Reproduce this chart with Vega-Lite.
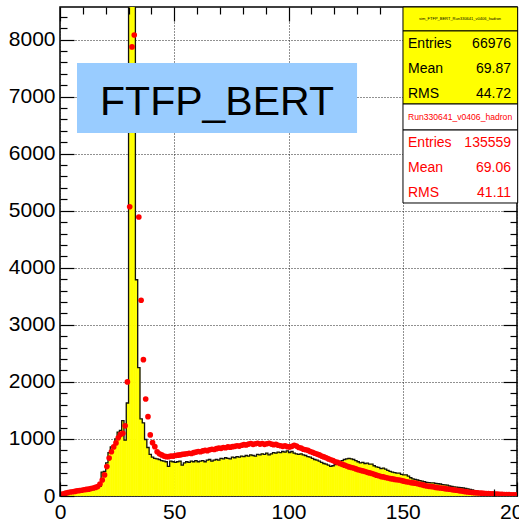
{
"$schema": "https://vega.github.io/schema/vega-lite/v6.json",
"width": 457, "height": 489,
"autosize": {"type": "none"},
"padding": {"left": 60, "top": 7, "right": 2, "bottom": 26},
"background": "white",
"data": {"values": [{}]},
"config": {"view": {"stroke": "black", "strokeWidth": 1.5}, "font": "Liberation Sans",
 "axis": {"domain": false, "labelFont": "Liberation Sans", "labelFontSize": 21, "labelColor": "black", "tickColor": "black", "tickWidth": 1.2, "labelBound": false, "labelOverlap": false, "labelFlush": false, "gridColor": "#222", "gridDash": [1, 2], "gridWidth": 1, "format": "d"}},
"datasets": {
"hist": [
{"lo":0,"hi":1,"n":20},{"lo":1,"hi":2,"n":40},{"lo":2,"hi":3,"n":50},{"lo":3,"hi":4,"n":55},{"lo":4,"hi":5,"n":60},{"lo":5,"hi":6,"n":70},{"lo":6,"hi":7,"n":75},{"lo":7,"hi":8,"n":80},{"lo":8,"hi":9,"n":90},{"lo":9,"hi":10,"n":95},
{"lo":10,"hi":11,"n":100},{"lo":11,"hi":12,"n":110},{"lo":12,"hi":13,"n":120},{"lo":13,"hi":14,"n":130},{"lo":14,"hi":15,"n":110},{"lo":15,"hi":16,"n":130},{"lo":16,"hi":17,"n":150},{"lo":17,"hi":18,"n":170},{"lo":18,"hi":19,"n":420},{"lo":19,"hi":20,"n":430},
{"lo":20,"hi":21,"n":580},{"lo":21,"hi":22,"n":760},{"lo":22,"hi":23,"n":860},{"lo":23,"hi":24,"n":880},{"lo":24,"hi":25,"n":1000},{"lo":25,"hi":26,"n":1120},{"lo":26,"hi":27,"n":1150},{"lo":27,"hi":28,"n":1320},{"lo":28,"hi":29,"n":980},{"lo":29,"hi":30,"n":1630},
{"lo":30,"hi":31,"n":14000},{"lo":31,"hi":32,"n":16000},{"lo":32,"hi":33,"n":12000},{"lo":33,"hi":34,"n":3790},{"lo":34,"hi":35,"n":2250},{"lo":35,"hi":36,"n":1350},{"lo":36,"hi":37,"n":1280},{"lo":37,"hi":38,"n":990},{"lo":38,"hi":39,"n":850},{"lo":39,"hi":40,"n":730},
{"lo":40,"hi":41,"n":680},{"lo":41,"hi":42,"n":660},{"lo":42,"hi":43,"n":650},{"lo":43,"hi":44,"n":640},{"lo":44,"hi":45,"n":620},{"lo":45,"hi":46,"n":610},{"lo":46,"hi":47,"n":600},{"lo":47,"hi":48,"n":520},{"lo":48,"hi":49,"n":610},{"lo":49,"hi":50,"n":600},
{"lo":50,"hi":51,"n":590},{"lo":51,"hi":52,"n":600},{"lo":52,"hi":53,"n":610},{"lo":53,"hi":54,"n":540},{"lo":54,"hi":55,"n":580},{"lo":55,"hi":56,"n":600},{"lo":56,"hi":57,"n":590},{"lo":57,"hi":58,"n":610},{"lo":58,"hi":59,"n":600},{"lo":59,"hi":60,"n":620},
{"lo":60,"hi":61,"n":600},{"lo":61,"hi":62,"n":610},{"lo":62,"hi":63,"n":620},{"lo":63,"hi":64,"n":600},{"lo":64,"hi":65,"n":630},{"lo":65,"hi":66,"n":640},{"lo":66,"hi":67,"n":610},{"lo":67,"hi":68,"n":630},{"lo":68,"hi":69,"n":640},{"lo":69,"hi":70,"n":630},
{"lo":70,"hi":71,"n":660},{"lo":71,"hi":72,"n":650},{"lo":72,"hi":73,"n":670},{"lo":73,"hi":74,"n":660},{"lo":74,"hi":75,"n":650},{"lo":75,"hi":76,"n":680},{"lo":76,"hi":77,"n":670},{"lo":77,"hi":78,"n":690},{"lo":78,"hi":79,"n":680},{"lo":79,"hi":80,"n":700},
{"lo":80,"hi":81,"n":690},{"lo":81,"hi":82,"n":710},{"lo":82,"hi":83,"n":700},{"lo":83,"hi":84,"n":720},{"lo":84,"hi":85,"n":710},{"lo":85,"hi":86,"n":700},{"lo":86,"hi":87,"n":730},{"lo":87,"hi":88,"n":720},{"lo":88,"hi":89,"n":740},{"lo":89,"hi":90,"n":730},
{"lo":90,"hi":91,"n":750},{"lo":91,"hi":92,"n":720},{"lo":92,"hi":93,"n":740},{"lo":93,"hi":94,"n":760},{"lo":94,"hi":95,"n":750},{"lo":95,"hi":96,"n":770},{"lo":96,"hi":97,"n":760},{"lo":97,"hi":98,"n":780},{"lo":98,"hi":99,"n":770},{"lo":99,"hi":100,"n":790},
{"lo":100,"hi":101,"n":760},{"lo":101,"hi":102,"n":780},{"lo":102,"hi":103,"n":750},{"lo":103,"hi":104,"n":740},{"lo":104,"hi":105,"n":730},{"lo":105,"hi":106,"n":740},{"lo":106,"hi":107,"n":720},{"lo":107,"hi":108,"n":710},{"lo":108,"hi":109,"n":690},{"lo":109,"hi":110,"n":680},
{"lo":110,"hi":111,"n":660},{"lo":111,"hi":112,"n":640},{"lo":112,"hi":113,"n":630},{"lo":113,"hi":114,"n":610},{"lo":114,"hi":115,"n":590},{"lo":115,"hi":116,"n":570},{"lo":116,"hi":117,"n":560},{"lo":117,"hi":118,"n":540},{"lo":118,"hi":119,"n":520},{"lo":119,"hi":120,"n":530},
{"lo":120,"hi":121,"n":550},{"lo":121,"hi":122,"n":570},{"lo":122,"hi":123,"n":600},{"lo":123,"hi":124,"n":620},{"lo":124,"hi":125,"n":640},{"lo":125,"hi":126,"n":650},{"lo":126,"hi":127,"n":660},{"lo":127,"hi":128,"n":650},{"lo":128,"hi":129,"n":640},{"lo":129,"hi":130,"n":620},
{"lo":130,"hi":131,"n":600},{"lo":131,"hi":132,"n":580},{"lo":132,"hi":133,"n":590},{"lo":133,"hi":134,"n":570},{"lo":134,"hi":135,"n":575},{"lo":135,"hi":136,"n":560},{"lo":136,"hi":137,"n":560},{"lo":137,"hi":138,"n":530},{"lo":138,"hi":139,"n":510},{"lo":139,"hi":140,"n":500},
{"lo":140,"hi":141,"n":480},{"lo":141,"hi":142,"n":490},{"lo":142,"hi":143,"n":470},{"lo":143,"hi":144,"n":450},{"lo":144,"hi":145,"n":430},{"lo":145,"hi":146,"n":420},{"lo":146,"hi":147,"n":410},{"lo":147,"hi":148,"n":400},{"lo":148,"hi":149,"n":400},{"lo":149,"hi":150,"n":380},
{"lo":150,"hi":151,"n":370},{"lo":151,"hi":152,"n":370},{"lo":152,"hi":153,"n":350},{"lo":153,"hi":154,"n":320},{"lo":154,"hi":155,"n":300},{"lo":155,"hi":156,"n":290},{"lo":156,"hi":157,"n":280},{"lo":157,"hi":158,"n":270},{"lo":158,"hi":159,"n":260},{"lo":159,"hi":160,"n":250},
{"lo":160,"hi":161,"n":240},{"lo":161,"hi":162,"n":235},{"lo":162,"hi":163,"n":230},{"lo":163,"hi":164,"n":230},{"lo":164,"hi":165,"n":220},{"lo":165,"hi":166,"n":215},{"lo":166,"hi":167,"n":210},{"lo":167,"hi":168,"n":200},{"lo":168,"hi":169,"n":195},{"lo":169,"hi":170,"n":190},
{"lo":170,"hi":171,"n":175},{"lo":171,"hi":172,"n":170},{"lo":172,"hi":173,"n":160},{"lo":173,"hi":174,"n":155},{"lo":174,"hi":175,"n":150},{"lo":175,"hi":176,"n":145},{"lo":176,"hi":177,"n":140},{"lo":177,"hi":178,"n":135},{"lo":178,"hi":179,"n":125},{"lo":179,"hi":180,"n":115},
{"lo":180,"hi":181,"n":105},{"lo":181,"hi":182,"n":95},{"lo":182,"hi":183,"n":85},{"lo":183,"hi":184,"n":75},{"lo":184,"hi":185,"n":70},{"lo":185,"hi":186,"n":65},{"lo":186,"hi":187,"n":60},{"lo":187,"hi":188,"n":58},{"lo":188,"hi":189,"n":55},{"lo":189,"hi":190,"n":52},
{"lo":190,"hi":191,"n":50},{"lo":191,"hi":192,"n":48},{"lo":192,"hi":193,"n":45},{"lo":193,"hi":194,"n":43},{"lo":194,"hi":195,"n":40},{"lo":195,"hi":196,"n":38},{"lo":196,"hi":197,"n":36},{"lo":197,"hi":198,"n":35},{"lo":198,"hi":199,"n":33},{"lo":199,"hi":200,"n":30}
],
"pts": [
{"x":0.5,"n":30},{"x":1.5,"n":40},{"x":2.5,"n":50},{"x":3.5,"n":60},{"x":4.5,"n":70},{"x":5.5,"n":75},{"x":6.5,"n":80},{"x":7.5,"n":90},{"x":8.5,"n":95},{"x":9.5,"n":100},
{"x":10.5,"n":110},{"x":11.5,"n":115},{"x":12.5,"n":120},{"x":13.5,"n":130},{"x":14.5,"n":140},{"x":15.5,"n":150},{"x":16.5,"n":165},{"x":17.5,"n":210},{"x":18.5,"n":280},{"x":19.5,"n":370},
{"x":20.5,"n":515},{"x":21.5,"n":665},{"x":22.5,"n":775},{"x":23.5,"n":860},{"x":24.5,"n":930},{"x":25.5,"n":1020},{"x":26.5,"n":1080},{"x":27.5,"n":1100},{"x":28.5,"n":1230},{"x":29.5,"n":2000},
{"x":30.5,"n":5070},{"x":31.5,"n":7870},{"x":32.5,"n":8080},{"x":33.5,"n":9500},{"x":34.5,"n":4890},{"x":35.5,"n":3430},{"x":36.5,"n":2390},{"x":37.5,"n":1700},{"x":38.5,"n":1390},{"x":39.5,"n":1070},
{"x":40.5,"n":935},{"x":41.5,"n":865},{"x":42.5,"n":775},{"x":43.5,"n":740},{"x":44.5,"n":720},{"x":45.5,"n":700},{"x":46.5,"n":690},{"x":47.5,"n":690},{"x":48.5,"n":700},{"x":49.5,"n":700},
{"x":50.5,"n":710},{"x":51.5,"n":715},{"x":52.5,"n":720},{"x":53.5,"n":730},{"x":54.5,"n":735},{"x":55.5,"n":740},{"x":56.5,"n":750},{"x":57.5,"n":745},{"x":58.5,"n":760},{"x":59.5,"n":770},
{"x":60.5,"n":780},{"x":61.5,"n":775},{"x":62.5,"n":790},{"x":63.5,"n":800},{"x":64.5,"n":795},{"x":65.5,"n":810},{"x":66.5,"n":820},{"x":67.5,"n":815},{"x":68.5,"n":830},{"x":69.5,"n":840},
{"x":70.5,"n":835},{"x":71.5,"n":850},{"x":72.5,"n":845},{"x":73.5,"n":860},{"x":74.5,"n":855},{"x":75.5,"n":865},{"x":76.5,"n":870},{"x":77.5,"n":880},{"x":78.5,"n":875},{"x":79.5,"n":890},
{"x":80.5,"n":900},{"x":81.5,"n":895},{"x":82.5,"n":910},{"x":83.5,"n":920},{"x":84.5,"n":905},{"x":85.5,"n":915},{"x":86.5,"n":925},{"x":87.5,"n":910},{"x":88.5,"n":920},{"x":89.5,"n":905},
{"x":90.5,"n":915},{"x":91.5,"n":925},{"x":92.5,"n":910},{"x":93.5,"n":900},{"x":94.5,"n":905},{"x":95.5,"n":890},{"x":96.5,"n":880},{"x":97.5,"n":870},{"x":98.5,"n":880},{"x":99.5,"n":865},
{"x":100.5,"n":860},{"x":101.5,"n":870},{"x":102.5,"n":890},{"x":103.5,"n":875},{"x":104.5,"n":850},{"x":105.5,"n":840},{"x":106.5,"n":820},{"x":107.5,"n":810},{"x":108.5,"n":800},{"x":109.5,"n":780},
{"x":110.5,"n":765},{"x":111.5,"n":750},{"x":112.5,"n":735},{"x":113.5,"n":720},{"x":114.5,"n":700},{"x":115.5,"n":685},{"x":116.5,"n":670},{"x":117.5,"n":650},{"x":118.5,"n":635},{"x":119.5,"n":620},
{"x":120.5,"n":600},{"x":121.5,"n":590},{"x":122.5,"n":570},{"x":123.5,"n":555},{"x":124.5,"n":540},{"x":125.5,"n":525},{"x":126.5,"n":510},{"x":127.5,"n":500},{"x":128.5,"n":490},{"x":129.5,"n":475},
{"x":130.5,"n":460},{"x":131.5,"n":450},{"x":132.5,"n":440},{"x":133.5,"n":430},{"x":134.5,"n":415},{"x":135.5,"n":405},{"x":136.5,"n":395},{"x":137.5,"n":380},{"x":138.5,"n":365},{"x":139.5,"n":355},
{"x":140.5,"n":340},{"x":141.5,"n":335},{"x":142.5,"n":325},{"x":143.5,"n":315},{"x":144.5,"n":305},{"x":145.5,"n":300},{"x":146.5,"n":290},{"x":147.5,"n":285},{"x":148.5,"n":280},{"x":149.5,"n":270},
{"x":150.5,"n":260},{"x":151.5,"n":250},{"x":152.5,"n":245},{"x":153.5,"n":235},{"x":154.5,"n":230},{"x":155.5,"n":225},{"x":156.5,"n":215},{"x":157.5,"n":205},{"x":158.5,"n":195},{"x":159.5,"n":185},
{"x":160.5,"n":175},{"x":161.5,"n":170},{"x":162.5,"n":165},{"x":163.5,"n":160},{"x":164.5,"n":150},{"x":165.5,"n":145},{"x":166.5,"n":140},{"x":167.5,"n":135},{"x":168.5,"n":128},{"x":169.5,"n":122},
{"x":170.5,"n":118},{"x":171.5,"n":112},{"x":172.5,"n":105},{"x":173.5,"n":100},{"x":174.5,"n":95},{"x":175.5,"n":88},{"x":176.5,"n":82},{"x":177.5,"n":76},{"x":178.5,"n":70},{"x":179.5,"n":65},
{"x":180.5,"n":62},{"x":181.5,"n":58},{"x":182.5,"n":55},{"x":183.5,"n":52},{"x":184.5,"n":50},{"x":185.5,"n":47},{"x":186.5,"n":44},{"x":187.5,"n":41},{"x":188.5,"n":38},{"x":189.5,"n":36},
{"x":190.5,"n":34},{"x":191.5,"n":32},{"x":192.5,"n":30},{"x":193.5,"n":28},{"x":194.5,"n":26},{"x":195.5,"n":25},{"x":196.5,"n":24},{"x":197.5,"n":22},{"x":198.5,"n":21},{"x":199.5,"n":20}
]
},
"layer": [
{"data": {"name": "hist"},
 "mark": {"type": "rect", "color": "#ffff00", "stroke": "#ffff00", "strokeWidth": 0.6, "clip": true},
 "encoding": {
  "x": {"field": "lo", "type": "quantitative", "scale": {"domain": [0, 200], "nice": false, "zero": false}, "axis": {"orient": "bottom", "values": [0, 50, 100, 150, 200], "grid": true, "ticks": false, "labelPadding": 5, "title": null, "zindex": 0}},
  "x2": {"field": "hi"},
  "y": {"field": "n", "type": "quantitative", "scale": {"domain": [0, 8570], "nice": false, "zero": false}, "axis": {"orient": "left", "values": [0, 1000, 2000, 3000, 4000, 5000, 6000, 7000, 8000], "grid": true, "ticks": false, "labelPadding": 5, "title": null, "zindex": 0}},
  "y2": {"datum": 0}
 }},
{"data": {"name": "hist"},
 "transform": [{"fold": ["lo", "hi"], "as": ["edge", "xv"]}],
 "mark": {"type": "line", "color": "#111", "strokeWidth": 1.3, "clip": true},
 "encoding": {
  "x": {"field": "xv", "type": "quantitative", "scale": {"domain": [0, 200], "nice": false, "zero": false}, "axis": {"orient": "top", "offset": -489, "values": [0, 200], "tickSize": 14, "labels": false, "grid": false, "title": null, "zindex": 1}},
  "y": {"field": "n", "type": "quantitative", "scale": {"domain": [0, 8570], "nice": false, "zero": false}, "axis": {"orient": "right", "offset": -457, "values": [0, 1000, 2000, 3000, 4000, 5000, 6000, 7000, 8000], "tickSize": 14, "labels": false, "grid": false, "title": null, "zindex": 1}},
  "order": [{"field": "xv", "type": "quantitative"}, {"field": "lo", "type": "quantitative"}]
 }},
{"data": {"name": "pts"},
 "mark": {"type": "circle", "color": "#ff0000", "opacity": 1, "size": 32, "clip": true},
 "encoding": {
  "x": {"field": "x", "type": "quantitative", "scale": {"domain": [0, 200], "nice": false, "zero": false}, "axis": {"orient": "top", "offset": -489, "values": [190], "tickSize": 7, "labels": false, "grid": false, "title": null, "zindex": 1}},
  "y": {"field": "n", "type": "quantitative", "scale": {"domain": [0, 8570], "nice": false, "zero": false}, "axis": {"orient": "right", "offset": -457, "values": [200,400,600,800,1200,1400,1600,1800,2200,2400,2600,2800,3200,3400,3600,3800,4200,4400,4600,4800,5200,5400,5600,5800,6200,6400,6600,6800,7200,7400,7600,7800,8200,8400], "tickSize": 7, "labels": false, "grid": false, "title": null, "zindex": 1}}
 }},
{"mark": {"type": "rect", "color": "#99ccff"},
 "encoding": {
  "x": {"datum": 7.44, "type": "quantitative", "scale": {"domain": [0, 200], "nice": false, "zero": false}, "axis": {"orient": "bottom", "offset": -489, "values": [10,20,30,40,60,70,80,90,110,120,130,140], "tickSize": 7, "labels": false, "grid": false, "title": null, "zindex": 1}},
  "x2": {"datum": 130.0},
  "y": {"datum": 7589, "type": "quantitative", "scale": {"domain": [0, 8570], "nice": false, "zero": false}, "axis": {"orient": "left", "offset": -457, "values": [200,400,600,800,1200,1400,1600,1800,2200,2400,2600,2800,3200,3400,3600,3800,4200,4400,4600,4800], "tickSize": 7, "labels": false, "grid": false, "title": null, "zindex": 1}},
  "y2": {"datum": 6362}
 }},
{"mark": {"type": "text", "text": "FTFP_BERT", "font": "Liberation Sans", "fontSize": 41, "align": "center", "baseline": "alphabetic", "color": "black"},
 "encoding": {
  "x": {"datum": 68.7, "type": "quantitative", "scale": {"domain": [0, 200], "nice": false, "zero": false}, "axis": {"orient": "bottom", "offset": -489, "values": [0, 50, 100], "tickSize": 14, "labels": false, "grid": false, "title": null, "zindex": 1}},
  "y": {"datum": 6677, "type": "quantitative", "scale": {"domain": [0, 8570], "nice": false, "zero": false}, "axis": {"orient": "left", "offset": -457, "values": [1000, 2000, 3000, 4000, 5000], "tickSize": 14, "labels": false, "grid": false, "title": null, "zindex": 1}}
 }},
{"mark": {"type": "rect", "color": "#ffff00", "stroke": "black", "strokeWidth": 1, "clip": false},
 "encoding": {"x": {"datum": 150.1, "type": "quantitative", "scale": {"domain": [0, 200], "nice": false, "zero": false}, "axis": null}, "x2": {"datum": 200.3}, "y": {"datum": 8570, "type": "quantitative", "scale": {"domain": [0, 8570], "nice": false, "zero": false}, "axis": null}, "y2": {"datum": 8150}}},
{"mark": {"type": "rect", "color": "#ffff00", "stroke": "black", "strokeWidth": 1, "clip": false},
 "encoding": {"x": {"datum": 150.1, "type": "quantitative", "scale": {"domain": [0, 200], "nice": false, "zero": false}, "axis": null}, "x2": {"datum": 200.3}, "y": {"datum": 8150, "type": "quantitative", "scale": {"domain": [0, 8570], "nice": false, "zero": false}, "axis": null}, "y2": {"datum": 6870}}},
{"mark": {"type": "rect", "color": "white", "stroke": "black", "strokeWidth": 1, "clip": false},
 "encoding": {"x": {"datum": 150.1, "type": "quantitative", "scale": {"domain": [0, 200], "nice": false, "zero": false}, "axis": null}, "x2": {"datum": 200.3}, "y": {"datum": 6870, "type": "quantitative", "scale": {"domain": [0, 8570], "nice": false, "zero": false}, "axis": null}, "y2": {"datum": 6414}}},
{"mark": {"type": "rect", "color": "white", "stroke": "black", "strokeWidth": 1, "clip": false},
 "encoding": {"x": {"datum": 150.1, "type": "quantitative", "scale": {"domain": [0, 200], "nice": false, "zero": false}, "axis": null}, "x2": {"datum": 200.3}, "y": {"datum": 6414, "type": "quantitative", "scale": {"domain": [0, 8570], "nice": false, "zero": false}, "axis": null}, "y2": {"datum": 5135}}},
{"mark": {"type": "text", "text": "sim_FTFP_BERT_Run330641_v0406_hadron", "font": "Liberation Sans", "fontSize": 4, "align": "center", "baseline": "alphabetic", "color": "black"},
 "encoding": {"x": {"datum": 175.1, "type": "quantitative", "scale": {"domain": [0, 200], "nice": false, "zero": false}, "axis": null}, "y": {"datum": 8342, "type": "quantitative", "scale": {"domain": [0, 8570], "nice": false, "zero": false}, "axis": null}}},
{"mark": {"type": "text", "text": ["Entries", "Mean", "RMS"], "lineHeight": 25, "font": "Liberation Sans", "fontSize": 14, "align": "left", "baseline": "alphabetic", "color": "black"},
 "encoding": {"x": {"datum": 152.3, "type": "quantitative", "scale": {"domain": [0, 200], "nice": false, "zero": false}, "axis": null}, "y": {"datum": 7846, "type": "quantitative", "scale": {"domain": [0, 8570], "nice": false, "zero": false}, "axis": null}}},
{"mark": {"type": "text", "text": ["66976", "69.87", "44.72"], "lineHeight": 25, "font": "Liberation Sans", "fontSize": 14, "align": "right", "baseline": "alphabetic", "color": "black"},
 "encoding": {"x": {"datum": 197.4, "type": "quantitative", "scale": {"domain": [0, 200], "nice": false, "zero": false}, "axis": null}, "y": {"datum": 7846, "type": "quantitative", "scale": {"domain": [0, 8570], "nice": false, "zero": false}, "axis": null}}},
{"mark": {"type": "text", "text": "Run330641_v0406_hadron", "font": "Liberation Sans", "fontSize": 8.6, "align": "center", "baseline": "alphabetic", "color": "#ff0000"},
 "encoding": {"x": {"datum": 175.1, "type": "quantitative", "scale": {"domain": [0, 200], "nice": false, "zero": false}, "axis": null}, "y": {"datum": 6590, "type": "quantitative", "scale": {"domain": [0, 8570], "nice": false, "zero": false}, "axis": null}}},
{"mark": {"type": "text", "text": ["Entries", "Mean", "RMS"], "lineHeight": 25, "font": "Liberation Sans", "fontSize": 14, "align": "left", "baseline": "alphabetic", "color": "#ff0000"},
 "encoding": {"x": {"datum": 152.3, "type": "quantitative", "scale": {"domain": [0, 200], "nice": false, "zero": false}, "axis": null}, "y": {"datum": 6122, "type": "quantitative", "scale": {"domain": [0, 8570], "nice": false, "zero": false}, "axis": null}}},
{"mark": {"type": "text", "text": ["135559", "69.06", "41.11"], "lineHeight": 25, "font": "Liberation Sans", "fontSize": 14, "align": "right", "baseline": "alphabetic", "color": "#ff0000"},
 "encoding": {"x": {"datum": 197.4, "type": "quantitative", "scale": {"domain": [0, 200], "nice": false, "zero": false}, "axis": null}, "y": {"datum": 6122, "type": "quantitative", "scale": {"domain": [0, 8570], "nice": false, "zero": false}, "axis": null}}}
],
"resolve": {"scale": {"x": "independent", "y": "independent"}, "axis": {"x": "independent", "y": "independent"}}
}
